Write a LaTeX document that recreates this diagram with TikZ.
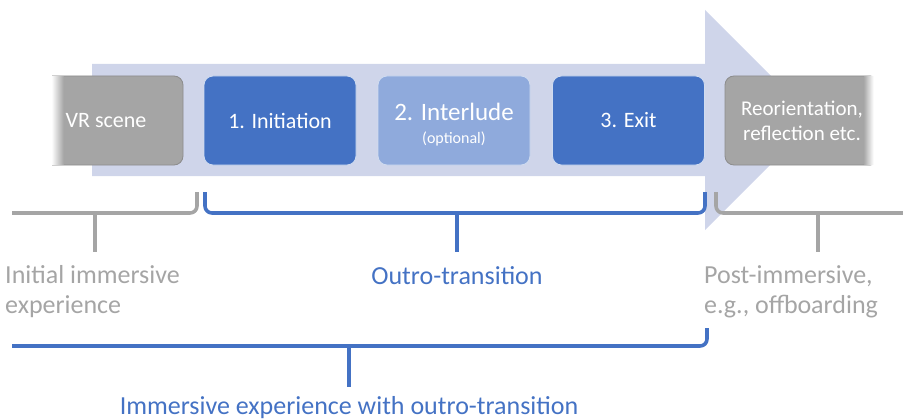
\documentclass[tikz,border=0pt]{standalone}
\usepackage{fontspec}
\setmainfont{Carlito}
\definecolor{cblue}{HTML}{4472C4}
\definecolor{clblue}{HTML}{8FAADC}
\definecolor{cgray}{HTML}{A5A5A5}
\definecolor{cgrayd}{HTML}{8C8C8C}
\definecolor{carrow}{HTML}{CFD5EA}
\tikzset{
  box/.style={rectangle, rounded corners=9pt, minimum height=89pt, inner sep=0pt, text=white, font=\fontsize{22}{26}\selectfont, align=center},
  bluebox/.style={box, fill=cblue, draw=white!75!cblue, line width=0.8pt, minimum width=152pt},
  graybox/.style={box, fill=cgray, draw=cgrayd, line width=0.8pt},
  gbrace/.style={draw=cgray, line width=3.6pt, rounded corners=7pt},
  bbrace/.style={draw=cblue, line width=3.6pt, rounded corners=7pt},
  gtext/.style={text=cgray, font=\fontsize{26}{30}\selectfont, inner sep=0pt, align=left},
  btext/.style={text=cblue, font=\fontsize{26}{30}\selectfont, inner sep=0pt, align=center}
}
\begin{document}
\begin{tikzpicture}[x=1pt,y=-1pt]
\useasboundingbox (0,0) rectangle (903,420);
% big arrow
\fill[carrow] (92,64) -- (705,64) -- (705,10) -- (815,120) -- (705,230) -- (705,176) -- (92,176) -- cycle;
% boxes
\node[graybox, minimum width=154pt] (vr) at (106,120.5) {VR scene};
\fill[white] (20,70) rectangle (52,172);
\foreach \i in {0,...,11} {
  \pgfmathsetmacro{\p}{(\i+0.5)*100/12}
  \fill[cgray!\p!white] (52+\i,75.6) rectangle (53.05+\i,165.4);
}
\node[bluebox] (init) at (280,120.5) {1. Initiation};
\node[bluebox, fill=clblue] (inter) at (454,120.5) {\rule{0pt}{25pt}\fontsize{25}{26}\selectfont 2. Interlude\\[-3pt]\fontsize{16}{17}\selectfont (optional)};
\node[bluebox] (exit) at (628.5,120.5) {3. Exit};
\node[graybox, minimum width=154pt, font=\fontsize{21}{25}\selectfont] (reo) at (802,120.5) {Reorientation,\\reflection etc.};
\foreach \i in {0,...,9} {
  \pgfmathsetmacro{\p}{100-(\i+0.5)*10}
  \fill[cgray!\p!white] (864+\i,75.6) rectangle (865.05+\i,165.4);
}
\fill[white] (874,70) rectangle (890,172);
% braces
\draw[gbrace] (12,213) -- (197,213) -- (197,192);
\draw[draw=cgray, line width=3.6pt] (95,213) -- (95,252);
\draw[bbrace] (205,192) -- (205,213) -- (705,213) -- (705,192);
\draw[draw=cblue, line width=3.6pt] (457,213) -- (457,252);
\draw[gbrace] (716,192) -- (716,213) -- (903,213);
\draw[draw=cgray, line width=3.6pt] (818,213) -- (818,252);
\draw[bbrace] (12,346) -- (707,346) -- (707,328);
\draw[draw=cblue, line width=3.6pt] (349,346) -- (349,387);
% labels
\node[gtext, anchor=base west] (l1) at (5,313) {Initial immersive\\experience};
\node[btext, anchor=base] (l2) at (457,284) {Outro-transition};
\node[gtext, anchor=base west] (l3) at (704,313) {Post-immersive,\\e.g., offboarding};
\node[btext, anchor=base] (l4) at (349,414) {Immersive experience with outro-transition};
\end{tikzpicture}
\end{document}
